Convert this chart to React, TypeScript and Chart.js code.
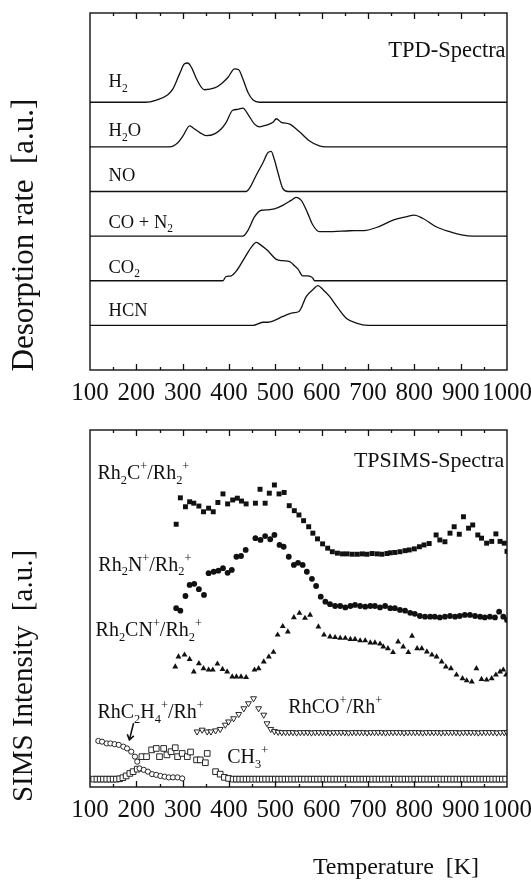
import React, { useEffect, useRef } from "react";
import { Chart, registerables } from "chart.js";
Chart.register(...registerables);

// ---------- DATA ----------
const TEMP_TICKS = [100, 200, 300, 400, 500, 600, 700, 800, 900, 1000];

// TPD curves: [temperature K, desorption rate above own baseline]
const tpdH2: [number, number][] = [[100,0],[220,0],[243,0.05],[268,0.17],[279,0.30],[293,0.63],[304,0.86],[311,0.88],[319,0.78],[330,0.52],[347,0.28],[369,0.32],[383,0.41],[398,0.56],[412,0.75],[421,0.73],[430,0.52],[441,0.22],[452,0.05],[466,0],[1000,0]];
const tpdH2O: [number, number][] = [[100,0],[272,0],[290,0.10],[301,0.25],[315,0.47],[322,0.43],[337,0.32],[351,0.25],[369,0.29],[383,0.40],[394,0.55],[408,0.82],[419,0.84],[430,0.87],[441,0.73],[455,0.51],[466,0.45],[481,0.49],[495,0.55],[502,0.63],[513,0.55],[531,0.51],[552,0.34],[574,0.13],[595,0.02],[610,0],[1000,0]];
const tpdNO: [number, number][] = [[100,0],[437,0],[444,0.07],[459,0.37],[473,0.64],[484,0.87],[491,0.90],[498,0.71],[506,0.41],[516,0.07],[527,0],[1000,0]];
const tpdCON2: [number, number][] = [[100,0],[430,0],[441,0.13],[455,0.43],[470,0.58],[484,0.59],[498,0.61],[516,0.69],[534,0.80],[545,0.87],[556,0.80],[570,0.51],[581,0.25],[595,0.10],[624,0.10],[660,0.12],[696,0.13],[725,0.22],[754,0.36],[782,0.43],[800,0.47],[818,0.40],[847,0.21],[876,0.10],[905,0.02],[926,0],[1000,0]];
const tpdCO2: [number, number][] = [[100,0],[387,0],[393,0.09],[405,0.11],[416,0.22],[434,0.52],[448,0.75],[459,0.86],[466,0.82],[484,0.67],[502,0.48],[516,0.45],[531,0.43],[538,0.37],[549,0.26],[559,0.11],[570,0.11],[580,0.07],[585,0],[1000,0]];
const tpdHCN: [number, number][] = [[100,0],[452,0],[473,0.07],[484,0.07],[498,0.11],[516,0.20],[538,0.28],[551,0.31],[567,0.65],[581,0.80],[592,0.89],[603,0.80],[617,0.65],[635,0.39],[653,0.16],[675,0.05],[700,0],[1000,0]];
const TPD_SERIES = [tpdH2, tpdH2O, tpdNO, tpdCON2, tpdCO2, tpdHCN];
const TPD_OFFSETS = [6, 5, 4, 3, 2, 1];

// TPSIMS series: [temperature K, intensity a.u.]
const simsRh2C: [number, number][] = [[286,73.6],[295,81.0],[306,78.5],[315,79.9],[324,79.5],[335,78.7],[345,77.1],[356,78.1],[366,77.1],[376,79.7],[387,82.1],[397,79.3],[408,80.4],[418,80.9],[427,80.1],[437,79.3],[457,79.5],[467,83.4],[478,79.5],[487,82.3],[498,84.6],[508,82.1],[519,82.5],[530,78.8],[541,77.4],[551,76.2],[561,74.6],[572,72.9],[581,71.1],[591,69.5],[602,68.1],[613,66.9],[623,65.9],[634,65.5],[645,65.3],[655,65.3],[666,65.2],[677,65.2],[688,65.3],[698,65.2],[709,65.4],[720,65.3],[730,65.2],[741,65.4],[748,65.6],[758,65.7],[769,65.9],[780,66.2],[789,66.4],[800,66.7],[811,67.3],[821,67.8],[832,68.2],[847,70.6],[855,69.2],[866,68.7],[877,71.1],[886,72.9],[897,70.8],[906,75.7],[917,72.5],[926,73.4],[937,70.6],[945,69.7],[956,68.3],[967,68.8],[976,70.9],[985,68.8],[994,68.3],[1000,66.0]];
const simsRh2N: [number, number][] = [[286,50.1],[295,49.4],[306,53.5],[315,56.6],[325,56.9],[335,55.4],[346,53.8],[356,59.9],[367,60.3],[377,60.6],[387,61.3],[397,60.0],[406,60.8],[416,64.5],[426,64.7],[436,66.4],[457,69.7],[468,69.2],[478,70.3],[489,69.4],[498,70.6],[509,67.8],[518,67.3],[529,64.5],[540,62.2],[549,62.8],[559,62.2],[568,60.3],[579,58.3],[588,56.3],[598,53.3],[608,51.9],[618,51.2],[629,50.7],[640,50.7],[651,50.3],[662,50.7],[672,51.0],[683,50.7],[694,50.5],[705,50.7],[715,50.7],[726,50.3],[737,50.7],[748,50.1],[758,50.1],[769,49.6],[780,49.4],[791,48.8],[801,48.5],[812,47.9],[823,47.7],[834,47.7],[844,47.7],[855,47.5],[866,47.7],[877,47.9],[888,47.7],[898,47.9],[909,48.2],[920,48.2],[931,47.9],[942,47.7],[952,47.5],[963,47.7],[974,47.5],[983,49.1],[992,47.7],[1000,46.8]];
const simsRh2CN: [number, number][] = [[284,33.7],[291,36.5],[304,37.0],[315,35.8],[324,32.3],[335,34.6],[345,33.2],[356,32.8],[365,32.8],[375,34.5],[386,33.0],[396,32.3],[407,30.9],[416,30.9],[426,30.9],[437,30.7],[455,32.8],[464,33.2],[475,35.1],[486,36.5],[496,37.8],[505,42.6],[516,45.0],[527,43.5],[540,47.5],[552,48.7],[564,47.3],[575,48.2],[593,44.9],[605,42.6],[618,42.1],[629,41.9],[640,41.7],[651,41.7],[662,41.4],[672,41.4],[683,41.0],[694,41.0],[705,40.4],[715,40.4],[726,40.1],[733,39.3],[743,38.8],[754,37.7],[765,40.7],[776,39.3],[787,37.7],[795,42.3],[806,38.8],[816,38.8],[827,37.9],[838,37.0],[848,36.5],[859,35.1],[868,33.7],[879,33.2],[891,31.4],[904,30.4],[913,29.8],[924,29.5],[934,33.2],[945,30.2],[956,30.0],[967,30.4],[976,31.4],[985,32.3],[992,32.8],[998,31.4]];
const simsRhCO: [number, number][] = [[331,15.5],[342,16.0],[353,15.5],[361,15.5],[371,15.8],[381,16.2],[392,17.4],[399,18.3],[410,19.2],[421,20.4],[432,22.0],[442,23.4],[453,24.8],[464,22.0],[475,20.2],[482,17.8],[490,16.2],[498,15.6],[506,15.4],[514,15.3],[522,15.3],[530,15.3],[538,15.3],[546,15.2],[554,15.3],[562,15.3],[570,15.3],[578,15.2],[586,15.3],[594,15.3],[602,15.3],[610,15.3],[618,15.2],[626,15.3],[634,15.3],[642,15.3],[650,15.3],[658,15.2],[666,15.3],[674,15.3],[682,15.3],[690,15.3],[698,15.2],[706,15.3],[714,15.3],[722,15.3],[730,15.3],[738,15.2],[746,15.3],[754,15.3],[762,15.3],[770,15.3],[778,15.2],[786,15.3],[794,15.3],[802,15.3],[810,15.3],[818,15.2],[826,15.3],[834,15.3],[842,15.3],[850,15.3],[858,15.2],[866,15.3],[874,15.3],[882,15.3],[890,15.3],[898,15.2],[906,15.3],[914,15.3],[922,15.3],[930,15.3],[938,15.2],[946,15.3],[954,15.3],[962,15.3],[970,15.3],[978,15.2],[986,15.3],[994,15.3],[1000,15.3]];
const simsRhC2H4: [number, number][] = [[118,12.9],[126,12.7],[136,12.2],[144,12.2],[153,12.0],[162,11.8],[172,11.3],[180,10.8],[189,9.9],[197,8.5],[202,7.1],[207,5.2],[216,4.8],[225,4.3],[234,3.6],[243,3.4],[252,3.1],[261,2.9],[270,2.7],[279,2.7],[289,2.7],[299,2.4]];
const simsCH3: [number, number][] = [[108,2.2],[115,2.2],[122,2.2],[129,2.2],[136,2.2],[143,2.2],[150,2.2],[157,2.2],[164,2.3],[171,2.6],[178,3.1],[186,3.8],[193,4.3],[202,5.0],[212,8.5],[222,8.5],[233,10.4],[243,10.8],[250,8.5],[259,10.8],[266,9.0],[275,9.9],[284,11.0],[289,8.5],[299,9.4],[310,8.5],[317,9.8],[330,7.6],[338,7.6],[349,6.8],[353,9.4],[371,4.3],[381,3.6],[390,2.7],[399,2.4],[409,2.2],[416,2.2],[423,2.2],[430,2.2],[437,2.2],[444,2.2],[451,2.2],[458,2.2],[465,2.2],[472,2.2],[479,2.2],[486,2.2],[493,2.2],[500,2.2],[507,2.2],[514,2.2],[521,2.2],[528,2.2],[535,2.2],[542,2.2],[549,2.2],[556,2.2],[563,2.2],[570,2.2],[577,2.2],[584,2.2],[591,2.2],[598,2.2],[605,2.2],[612,2.2],[619,2.2],[626,2.2],[633,2.2],[640,2.2],[647,2.2],[654,2.2],[661,2.2],[668,2.2],[675,2.2],[682,2.2],[689,2.2],[696,2.2],[703,2.2],[710,2.2],[717,2.2],[724,2.2],[731,2.2],[738,2.2],[745,2.2],[752,2.2],[759,2.2],[766,2.2],[773,2.2],[780,2.2],[787,2.2],[794,2.2],[801,2.2],[808,2.2],[815,2.2],[822,2.2],[829,2.2],[836,2.2],[843,2.2],[850,2.2],[857,2.2],[864,2.2],[871,2.2],[878,2.2],[885,2.2],[892,2.2],[899,2.2],[906,2.2],[913,2.2],[920,2.2],[927,2.2],[934,2.2],[941,2.2],[948,2.2],[955,2.2],[962,2.2],[969,2.2],[976,2.2],[983,2.2],[990,2.2],[997,2.2]];

// ---------- TEXT ----------
type Seg = { t: string; s?: "sub" | "sup" };
const TPD_TITLE = "TPD-Spectra";
const SIMS_TITLE = "TPSIMS-Spectra";
const Y_TITLE_TOP = "Desorption rate  [a.u.]";
const Y_TITLE_BOTTOM = "SIMS Intensity  [a.u.]";
const X_TITLE = "Temperature  [K]";
const TPD_NAMES: Seg[][] = [
  [{ t: "H" }, { t: "2", s: "sub" }],
  [{ t: "H" }, { t: "2", s: "sub" }, { t: "O" }],
  [{ t: "NO" }],
  [{ t: "CO + N" }, { t: "2", s: "sub" }],
  [{ t: "CO" }, { t: "2", s: "sub" }],
  [{ t: "HCN" }],
];
const SIMS_NAMES: Seg[][] = [
  [{ t: "Rh" }, { t: "2", s: "sub" }, { t: "C" }, { t: "+", s: "sup" }, { t: "/Rh" }, { t: "2", s: "sub" }, { t: "+", s: "sup" }],
  [{ t: "Rh" }, { t: "2", s: "sub" }, { t: "N" }, { t: "+", s: "sup" }, { t: "/Rh" }, { t: "2", s: "sub" }, { t: "+", s: "sup" }],
  [{ t: "Rh" }, { t: "2", s: "sub" }, { t: "CN" }, { t: "+", s: "sup" }, { t: "/Rh" }, { t: "2", s: "sub" }, { t: "+", s: "sup" }],
  [{ t: "RhC" }, { t: "2", s: "sub" }, { t: "H" }, { t: "4", s: "sub" }, { t: "+", s: "sup" }, { t: "/Rh" }, { t: "+", s: "sup" }],
  [{ t: "RhCO" }, { t: "+", s: "sup" }, { t: "/Rh" }, { t: "+", s: "sup" }],
  [{ t: "CH" }, { t: "3", s: "sub" }, { t: "+", s: "sup" }],
];

// ---------- LAYOUT (positions in data coordinates) ----------
const TPD_LABEL_POS = [[140, 6.335], [140, 5.235], [140, 4.235], [140, 3.19], [140, 2.18], [140, 1.21]];
const SIMS_LABEL_POS = [[116, 86.3], [118, 60.6], [112, 42.3], [116, 19.3], [528, 20.7], [396, 6.7]];
const FONT = '"Liberation Serif", "Times New Roman", serif';

function drawRich(ctx: CanvasRenderingContext2D, segs: Seg[], x: number, y: number, size: number) {
  let cx = x;
  ctx.textAlign = "left";
  ctx.textBaseline = "alphabetic";
  for (const sg of segs) {
    const fs = sg.s ? size * 0.62 : size;
    ctx.font = `${fs}px ${FONT}`;
    const dy = sg.s === "sub" ? size * 0.24 : sg.s === "sup" ? -size * 0.45 : 0;
    ctx.fillText(sg.t, cx, y + dy);
    cx += ctx.measureText(sg.t).width;
  }
}

function frameAndTicks(chart: any) {
  const { ctx, chartArea: a } = chart;
  const xs = chart.scales.x;
  ctx.save();
  ctx.strokeStyle = "#111";
  ctx.lineWidth = 1.3;
  ctx.beginPath();
  for (let t = 150; t < 1000; t += 50) {
    const px = Math.round(xs.getPixelForValue(t)) + 0.5;
    const len = t % 100 === 0 ? 6 : 3;
    ctx.moveTo(px, a.bottom);
    ctx.lineTo(px, a.bottom - len);
    ctx.moveTo(px, a.top);
    ctx.lineTo(px, a.top + len);
  }
  ctx.stroke();
  ctx.lineWidth = 1.4;
  ctx.strokeRect(a.left, a.top, a.right - a.left, a.bottom - a.top);
  ctx.restore();
}

function vTitle(ctx: CanvasRenderingContext2D, text: string, x: number, y: number, size: number) {
  ctx.save();
  ctx.translate(x, y);
  ctx.rotate(-Math.PI / 2);
  ctx.font = `${size}px ${FONT}`;
  ctx.fillStyle = "#111";
  ctx.textAlign = "center";
  ctx.textBaseline = "middle";
  ctx.fillText(text, 0, 0);
  ctx.restore();
}

const topDecor = {
  id: "topDecor",
  afterDraw(chart: any) {
    const { ctx } = chart;
    const xs = chart.scales.x, ys = chart.scales.y;
    frameAndTicks(chart);
    ctx.save();
    ctx.fillStyle = "#111";
    TPD_NAMES.forEach((segs, i) => {
      const [t, v] = TPD_LABEL_POS[i];
      drawRich(ctx, segs, xs.getPixelForValue(t), ys.getPixelForValue(v), 18.5);
    });
    ctx.font = `22.5px ${FONT}`;
    ctx.textAlign = "right";
    ctx.textBaseline = "alphabetic";
    ctx.fillText(TPD_TITLE, xs.getPixelForValue(997), ys.getPixelForValue(7.01));
    ctx.restore();
    vTitle(ctx, Y_TITLE_TOP, 25, 235, 31);
  },
};

const bottomDecor = {
  id: "bottomDecor",
  afterDraw(chart: any) {
    const { ctx } = chart;
    const xs = chart.scales.x, ys = chart.scales.y;
    frameAndTicks(chart);
    ctx.save();
    ctx.fillStyle = "#111";
    SIMS_NAMES.forEach((segs, i) => {
      const [t, v] = SIMS_LABEL_POS[i];
      drawRich(ctx, segs, xs.getPixelForValue(t), ys.getPixelForValue(v), 20);
    });
    ctx.font = `22px ${FONT}`;
    ctx.textAlign = "right";
    ctx.textBaseline = "alphabetic";
    ctx.fillText(SIMS_TITLE, xs.getPixelForValue(994), ys.getPixelForValue(89.7));
    // arrow for RhC2H4+
    const x1 = xs.getPixelForValue(194), y1 = ys.getPixelForValue(17.9);
    const x2 = xs.getPixelForValue(185), y2 = ys.getPixelForValue(13.2);
    ctx.strokeStyle = "#111";
    ctx.lineWidth = 1.6;
    ctx.beginPath();
    ctx.moveTo(x1, y1);
    ctx.lineTo(x2, y2);
    const ang = Math.atan2(y2 - y1, x2 - x1);
    ctx.moveTo(x2 - 6 * Math.cos(ang - 0.6), y2 - 6 * Math.sin(ang - 0.6));
    ctx.lineTo(x2, y2);
    ctx.lineTo(x2 - 6 * Math.cos(ang + 0.6), y2 - 6 * Math.sin(ang + 0.6));
    ctx.stroke();
    // x title
    ctx.font = `24px ${FONT}`;
    ctx.textAlign = "center";
    ctx.textBaseline = "middle";
    ctx.fillText(X_TITLE, 396, 448);
    ctx.restore();
    vTitle(ctx, Y_TITLE_BOTTOM, 24, 256, 29);
  },
};

function xScale() {
  return {
    type: "linear" as const,
    min: 100,
    max: 1000,
    afterBuildTicks: (s: any) => { s.ticks = TEMP_TICKS.map((v) => ({ value: v })); },
    afterFit: (s: any) => { s.height = 40; s.paddingLeft = 0; s.paddingRight = 0; },
    grid: { display: false, drawTicks: false },
    border: { display: false },
    ticks: {
      padding: 8,
      color: "#111",
      font: { family: FONT, size: 25 },
      maxRotation: 0,
      autoSkip: false,
      callback: (v: any) => String(v),
    },
  };
}

export default function App() {
  const topRef = useRef<HTMLCanvasElement>(null);
  const botRef = useRef<HTMLCanvasElement>(null);

  useEffect(() => {
    const top = new Chart(topRef.current!, {
      type: "scatter",
      data: {
        datasets: TPD_SERIES.map((ser, i) => ({
          data: ser.map(([t, h]) => ({ x: t, y: h + TPD_OFFSETS[i] })),
          showLine: true,
          borderColor: "#111",
          borderWidth: 1.3,
          pointRadius: 0,
          cubicInterpolationMode: "monotone" as const,
        })),
      },
      options: {
        responsive: false,
        animation: false,
        layout: { padding: { left: 90, right: 24, top: 13, bottom: 10 } },
        plugins: { legend: { display: false }, tooltip: { enabled: false } },
        scales: { x: xScale(), y: { display: false, min: 0, max: 8 } },
      },
      plugins: [topDecor],
    });

    const mk = (data: [number, number][], style: string, fill: string, r: number, rot = 0, bw = 0) => ({
      data: data.map(([t, v]) => ({ x: t, y: v })),
      showLine: false,
      pointStyle: style,
      pointRotation: rot,
      pointRadius: r,
      backgroundColor: fill,
      borderColor: "#111",
      borderWidth: bw,
    });

    const bot = new Chart(botRef.current!, {
      type: "scatter",
      data: {
        datasets: [
          mk(simsRh2C, "rect", "#111", 3.5),
          mk(simsRh2N, "circle", "#111", 2.9),
          mk(simsRh2CN, "triangle", "#111", 3.4),
          mk(simsRhCO, "triangle", "#fff", 3.4, 180, 0.9),
          mk(simsRhC2H4, "circle", "#fff", 2.6, 0, 0.9),
          mk(simsCH3, "rect", "#fff", 4.0, 0, 0.9),
        ],
      },
      options: {
        responsive: false,
        animation: false,
        layout: { padding: { left: 90, right: 24, top: 10, bottom: 54 } },
        plugins: { legend: { display: false }, tooltip: { enabled: false } },
        scales: { x: xScale(), y: { display: false, min: 0, max: 100 } },
      },
      plugins: [bottomDecor],
    });

    return () => { top.destroy(); bot.destroy(); };
  }, []);

  return (
    <div style={{ position: "absolute", left: 0, top: 0, width: 531, height: 881, background: "#fff", overflow: "hidden" }}>
      <canvas ref={topRef} width={531} height={420} style={{ position: "absolute", left: 0, top: 0 }} />
      <canvas ref={botRef} width={531} height={461} style={{ position: "absolute", left: 0, top: 420 }} />
    </div>
  );
}
